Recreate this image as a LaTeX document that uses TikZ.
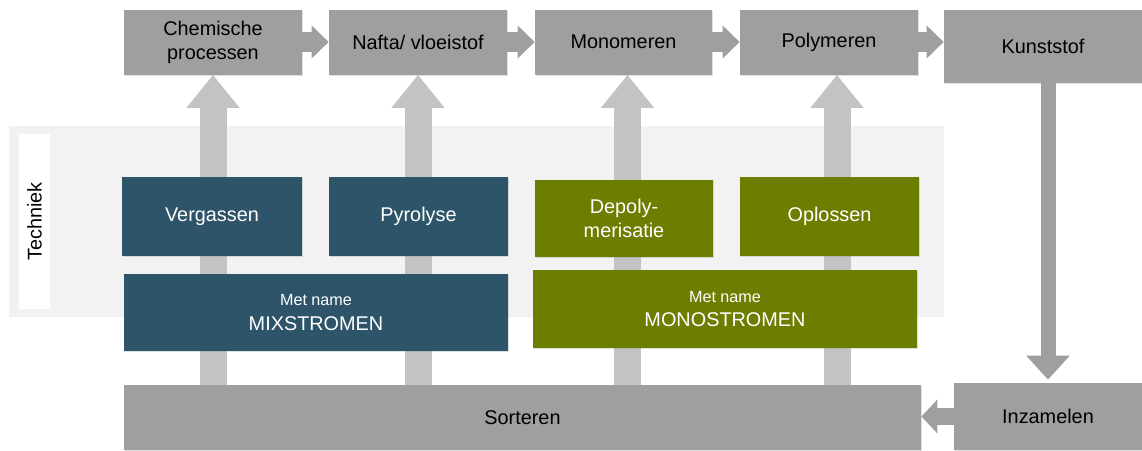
\documentclass[tikz,border=0pt]{standalone}
\usepackage{fontspec}
\setmainfont{Liberation Sans}
\usetikzlibrary{arrows.meta,backgrounds,shadows}
\definecolor{boxgray}{HTML}{9F9F9F}
\definecolor{arrowgray}{HTML}{C3C3C3}
\definecolor{bandgray}{HTML}{F2F2F2}
\definecolor{mixblue}{HTML}{2E546A}
\definecolor{monogreen}{HTML}{6C7D00}
\begin{document}
\begin{tikzpicture}[x=0.02cm,y=-0.02cm]
\tikzstyle{every node}=[font=\fontsize{11.3}{13.7}\selectfont,align=center,inner sep=0pt]
\tikzstyle{stap}=[fill=boxgray,text=black,drop shadow={shadow xshift=0.6pt,shadow yshift=-0.6pt,opacity=0.25}]
\tikzstyle{mix}=[fill=mixblue,text=white,drop shadow={shadow xshift=0.6pt,shadow yshift=-0.6pt,opacity=0.25}]
\tikzstyle{mono}=[fill=monogreen,text=white,drop shadow={shadow xshift=0.6pt,shadow yshift=-0.6pt,opacity=0.25}]
\tikzstyle{flow}=[draw=boxgray,line width=0.4cm,-{Triangle[width=0.64cm,length=0.34cm]}]
\tikzstyle{upflow}=[draw=arrowgray,line width=0.54cm,-{Triangle[width=1.02cm,length=0.66cm]}]
\useasboundingbox (0,0) rectangle (1142,450);
\node[stap,minimum width=178*0.02cm,minimum height=65*0.02cm] (chem) at (213,42) {Chemische\\processen};
\node[stap,minimum width=178*0.02cm,minimum height=65*0.02cm] (nafta) at (418,42) {Nafta/ vloeistof};
\node[stap,minimum width=177*0.02cm,minimum height=65*0.02cm] (monom) at (623.5,42) {Monomeren};
\node[stap,minimum width=178*0.02cm,minimum height=65*0.02cm] (polym) at (829,42) {Polymeren};
\node[stap,minimum width=198*0.02cm,minimum height=73*0.02cm] (kunst) at (1043,46.5) {Kunststof};
\node[mix,minimum width=180*0.02cm,minimum height=79*0.02cm] (verg) at (212,216.5) {Vergassen};
\node[mix,minimum width=179*0.02cm,minimum height=79*0.02cm] (pyro) at (418.5,216.5) {Pyrolyse};
\node[mix,minimum width=384*0.02cm,minimum height=77*0.02cm] (mixstr) at (316,312.5) {{\fontsize{9.2}{11}\selectfont Met name}\\MIXSTROMEN};
\node[mono,minimum width=178*0.02cm,minimum height=77*0.02cm] (depol) at (624,218.5) {Depoly-\\merisatie};
\node[mono,minimum width=179*0.02cm,minimum height=79*0.02cm] (oplos) at (829.5,216.5) {Oplossen};
\node[mono,minimum width=384*0.02cm,minimum height=78*0.02cm] (monostr) at (725,309) {{\fontsize{9.2}{11}\selectfont Met name}\\MONOSTROMEN};
\node[stap,minimum width=797*0.02cm,minimum height=65*0.02cm] (sort) at (522.5,417.5) {Sorteren};
\node[stap,minimum width=188*0.02cm,minimum height=67*0.02cm] (inzam) at (1048,416.5) {Inzamelen};
\begin{scope}[on background layer]
\fill[bandgray] (9,126) rectangle (944,317);
\node[fill=white,rotate=90,minimum width=175*0.02cm,minimum height=31*0.02cm] (techniek) at (34.5,221.5) {Techniek};
\draw[upflow] (sort.north -| chem) -- (chem.south);
\draw[upflow] (sort.north -| nafta) -- (nafta.south);
\draw[upflow] ([xshift=0.08cm]sort.north -| monom) -- ([xshift=0.08cm]monom.south);
\draw[upflow] ([xshift=0.16cm]sort.north -| polym) -- ([xshift=0.16cm]polym.south);
\end{scope}
\draw[flow] (chem) -- (nafta);
\draw[flow] (nafta) -- (monom);
\draw[flow] (monom) -- (polym);
\draw[flow] (polym.east) -- (polym.east -| kunst.west);
\draw[draw=boxgray,line width=0.3cm,-{Triangle[width=0.84cm,length=0.48cm]},shorten >=0.06cm] ([xshift=0.1cm]kunst.south) -- ([xshift=0.1cm]kunst.south |- inzam.north);
\draw[draw=boxgray,line width=0.34cm,-{Triangle[width=0.66cm,length=0.32cm]}] (inzam.west) -- (inzam.west -| sort.east);
\end{tikzpicture}
\end{document}
